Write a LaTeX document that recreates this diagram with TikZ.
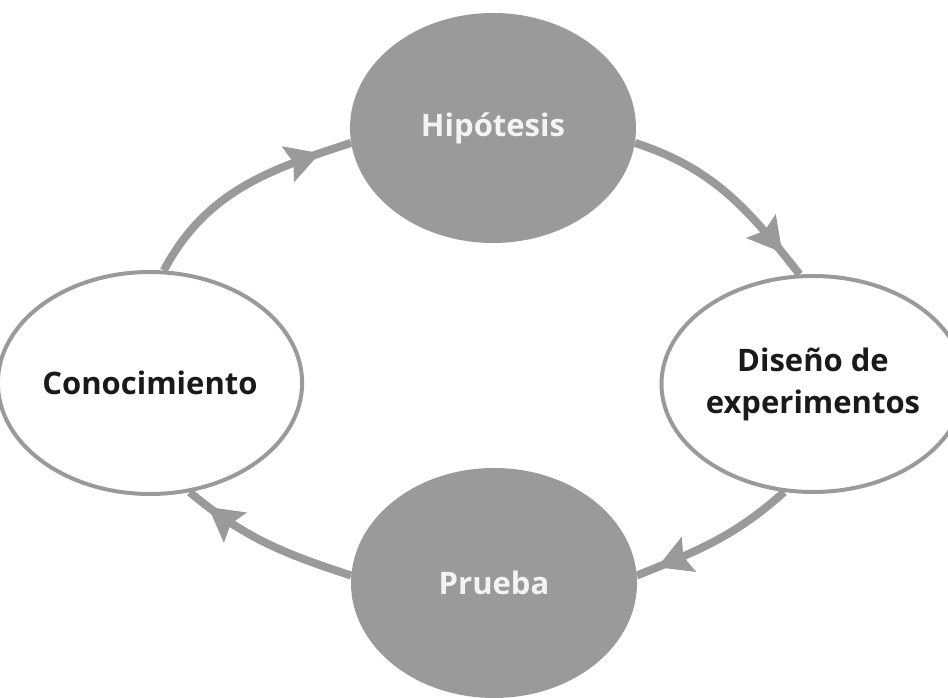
\documentclass[tikz,border=0pt]{standalone}
\usepackage{fontspec}
\setmainfont{Open Sans}
\usetikzlibrary{shapes.geometric,arrows.meta,decorations.markings}
\definecolor{cgray}{HTML}{9A9A9A}
\definecolor{ctext}{HTML}{1A1A1A}
\definecolor{cwhite}{HTML}{F4F4F4}
\tikzset{
  darkell/.style={ellipse, fill=cgray, inner sep=0pt, text=cwhite,
    font=\fontsize{31}{42}\selectfont\bfseries, align=center},
  lightell/.style={ellipse, draw=cgray, line width=4pt, fill=white, inner sep=0pt,
    text=ctext, font=\fontsize{31}{42}\selectfont\bfseries, align=center},
  flow/.style={draw=cgray, line width=8pt,
    decoration={markings, mark=at position #1 with {\arrow{Stealth[length=34pt,width=38pt,inset=6pt,line width=1pt,fill=cgray]}}},
    postaction={decorate}},
  flow/.default=0.84
}
\begin{document}
\begin{tikzpicture}[x=1pt,y=1pt]
\useasboundingbox (0,0) rectangle (948,698);
\fill[white] (0,0) rectangle (948,698);
\node[darkell, minimum width=286pt, minimum height=230pt] (hip) at (493,570) {Hipótesis};
\node[darkell, minimum width=286pt, minimum height=230pt] (pru) at (494,115) {Prueba};
\node[lightell, minimum width=274pt, minimum height=222pt] (con) at (150,315) {Conocimiento};
\node[lightell, minimum width=266pt, minimum height=216pt] (dis) at (813,314) {Diseño de\\experimentos};
\draw[flow=0.86] (con.83) to[out=62, in=198] (hip.186);
\draw[flow=0.87] (hip.-6) to[out=-18, in=128] (dis.97);
\draw[flow=0.87] (dis.-105) to[out=222, in=22] (pru.3);
\draw[flow=0.87] (pru.177) to[out=162, in=-40] (con.-70);
\end{tikzpicture}
\end{document}
